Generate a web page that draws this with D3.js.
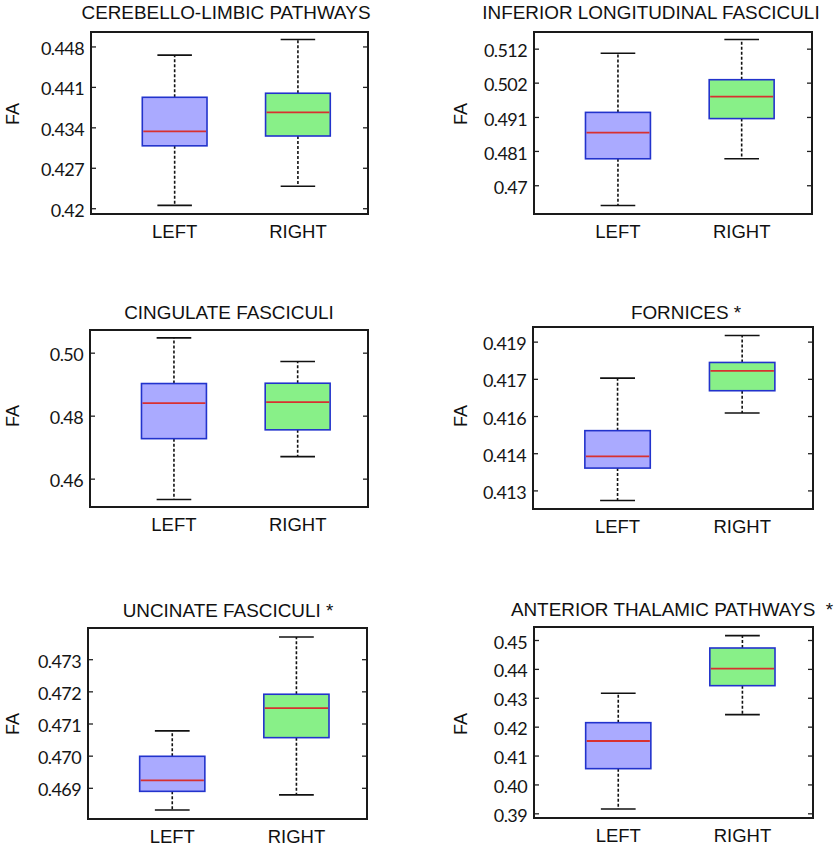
<!DOCTYPE html>
<html>
<head>
<meta charset="utf-8">
<script src="https://cdn.jsdelivr.net/npm/d3@7"></script>
<style>
  html, body { margin: 0; padding: 0; background: #fff; }
  svg { display: block; }
  .title { font-family: "Liberation Sans", Arial, sans-serif; font-size: 18.9px; fill: #111; white-space: pre; }
  .xlab { font-family: "Liberation Sans", Arial, sans-serif; font-size: 18.5px; fill: #111; }
  .ylab { font-family: "Liberation Sans", Arial, sans-serif; font-size: 18px; fill: #111; }
  .tick text { font-family: Lato, "Open Sans", sans-serif; font-size: 18px; letter-spacing: -0.6px; fill: #151515; }
</style>
</head>
<body>
<script>
// ---------------- DATA ----------------
const categories = ["LEFT", "RIGHT"];
const titles = [
  "CEREBELLO-LIMBIC PATHWAYS",
  "INFERIOR LONGITUDINAL FASCICULI",
  "CINGULATE FASCICULI",
  "FORNICES *",
  "UNCINATE FASCICULI *",
  "ANTERIOR THALAMIC PATHWAYS  *"
];
const yLabel = "FA";
// y-axis extents of each panel
const yDomains = [
  [0.4190, 0.4505],
  [0.4614, 0.5171],
  [0.4510, 0.5072],
  [0.41205, 0.41939],
  [0.46803, 0.47397],
  [0.38838, 0.4545]
];
const yTickValues = [
  [0.420, 0.427, 0.434, 0.441, 0.448],
  [0.4702, 0.4807, 0.4911, 0.5016, 0.5120],
  [0.46, 0.48, 0.50],
  [0.4128, 0.4143, 0.4158, 0.4173, 0.4188],
  [0.469, 0.470, 0.471, 0.472, 0.473],
  [0.39, 0.40, 0.41, 0.42, 0.43, 0.44, 0.45]
];
const yTickLabels = [
  ["0.42", "0.427", "0.434", "0.441", "0.448"],
  ["0.47", "0.481", "0.491", "0.502", "0.512"],
  ["0.46", "0.48", "0.50"],
  ["0.413", "0.414", "0.416", "0.417", "0.419"],
  ["0.469", "0.470", "0.471", "0.472", "0.473"],
  ["0.39", "0.40", "0.41", "0.42", "0.43", "0.44", "0.45"]
];
// [lower whisker, q1, median, q3, upper whisker]
const leftStats = [
  [0.4205, 0.4308, 0.4333, 0.4392, 0.4465],
  [0.4640, 0.4783, 0.4863, 0.4925, 0.5106],
  [0.4534, 0.4727, 0.4840, 0.4902, 0.5047],
  [0.41239, 0.41370, 0.41417, 0.41521, 0.41733],
  [0.46831, 0.46889, 0.46923, 0.46998, 0.47077],
  [0.3915, 0.40546, 0.41504, 0.42138, 0.43154]
];
const rightStats = [
  [0.4238, 0.4325, 0.4366, 0.4399, 0.4492],
  [0.4783, 0.4906, 0.4973, 0.5025, 0.5148],
  [0.4670, 0.4755, 0.4843, 0.4903, 0.4972],
  [0.41592, 0.41682, 0.41762, 0.41796, 0.41905],
  [0.46878, 0.47056, 0.47148, 0.47191, 0.47369],
  [0.42415, 0.43419, 0.44008, 0.44723, 0.4515]
];
const boxFills = ["#aaaaff", "#88f088"];

// ---------------- LAYOUT ----------------
const W = 839, H = 850;
const frames = [
  {l: 91,  r: 368, t: 32,  b: 214, tx: 226, ty: 18.5, fy: 114},
  {l: 534, r: 812, t: 32,  b: 214, tx: 651, ty: 18.5, fy: 114},
  {l: 90,  r: 368, t: 330, b: 507, tx: 229, ty: 318.5, fy: 416},
  {l: 533, r: 813, t: 327, b: 509, tx: 686, ty: 318.5, fy: 416},
  {l: 88,  r: 367, t: 628, b: 819, tx: 228, ty: 617, fy: 724},
  {l: 534, r: 813, t: 627, b: 818, tx: 672, ty: 616, fy: 724}
];

const svg = d3.select("body").append("svg")
  .attr("width", W).attr("height", H)
  .attr("viewBox", `0 0 ${W} ${H}`);

frames.forEach((f, i) => {
  const g = svg.append("g");
  const w = f.r - f.l;
  const y = d3.scaleLinear().domain(yDomains[i]).range([f.b, f.t]);
  const x = d3.scalePoint().domain(categories).range([f.l + 0.302 * w, f.l + 0.747 * w]);
  const step = x(categories[1]) - x(categories[0]);
  const boxW = 0.525 * step;
  const capW = 0.28 * step;

  // left axis
  const axL = d3.axisLeft(y)
    .tickValues(yTickValues[i])
    .tickFormat((d, k) => yTickLabels[i][k])
    .tickSizeInner(-5).tickSizeOuter(0).tickPadding(7);
  const gl = g.append("g").attr("transform", `translate(${f.l},0)`).call(axL);
  gl.select(".domain").remove();
  gl.selectAll(".tick line").attr("stroke", "#222").attr("stroke-width", 1.3);
  gl.selectAll(".tick text").attr("dy", "0.45em");

  // right axis (mirrored ticks, no labels)
  const axR = d3.axisRight(y)
    .tickValues(yTickValues[i])
    .tickFormat("")
    .tickSizeInner(-5).tickSizeOuter(0);
  const gr = g.append("g").attr("transform", `translate(${f.r},0)`).call(axR);
  gr.select(".domain").remove();
  gr.selectAll(".tick line").attr("stroke", "#222").attr("stroke-width", 1.3);

  // frame
  g.append("rect")
    .attr("x", f.l).attr("y", f.t)
    .attr("width", w).attr("height", f.b - f.t)
    .attr("fill", "none").attr("stroke", "#1a1a1a").attr("stroke-width", 2);

  // boxes
  const stats = [leftStats[i], rightStats[i]];
  categories.forEach((c, k) => {
    const s = stats[k];
    const cx = x(c);
    // whiskers
    g.append("line")
      .attr("x1", cx).attr("x2", cx).attr("y1", y(s[3])).attr("y2", y(s[4]))
      .attr("stroke", "#111").attr("stroke-width", 1.6).attr("stroke-dasharray", "3,2");
    g.append("line")
      .attr("x1", cx).attr("x2", cx).attr("y1", y(s[1])).attr("y2", y(s[0]))
      .attr("stroke", "#111").attr("stroke-width", 1.6).attr("stroke-dasharray", "3,2");
    // caps
    [s[0], s[4]].forEach(v => {
      g.append("line")
        .attr("x1", cx - capW / 2).attr("x2", cx + capW / 2)
        .attr("y1", y(v)).attr("y2", y(v))
        .attr("stroke", "#111").attr("stroke-width", 1.6);
    });
    // box
    g.append("rect")
      .attr("x", cx - boxW / 2).attr("width", boxW)
      .attr("y", y(s[3])).attr("height", y(s[1]) - y(s[3]))
      .attr("fill", boxFills[k]).attr("stroke", "#2233cc").attr("stroke-width", 1.6);
    // median
    g.append("line")
      .attr("x1", cx - boxW / 2 + 1).attr("x2", cx + boxW / 2 - 1)
      .attr("y1", y(s[2])).attr("y2", y(s[2]))
      .attr("stroke", "#d83030").attr("stroke-width", 1.8);
    // x label
    g.append("text").attr("class", "xlab")
      .attr("x", cx).attr("y", f.b + 24)
      .attr("text-anchor", "middle").text(c);
  });

  // title
  g.append("text").attr("class", "title")
    .attr("x", f.tx).attr("y", f.ty)
    .attr("text-anchor", "middle").text(titles[i]);

  // y label
  const fx = f.l < 200 ? 18.5 : 466.5;
  g.append("text").attr("class", "ylab")
    .attr("transform", `translate(${fx},${f.fy}) rotate(-90)`)
    .attr("text-anchor", "middle").text(yLabel);
});
</script>
</body>
</html>
